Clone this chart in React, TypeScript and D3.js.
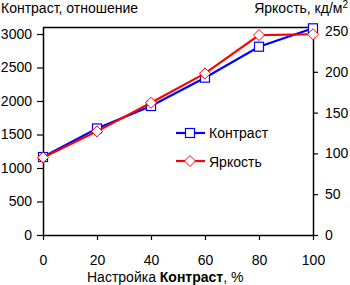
import React, { useEffect, useRef } from "react";
import * as d3 from "d3";

// Contrast setting, %
const settings = [0, 20, 40, 60, 80, 100];
// contrast ratio (left axis)
const contrastRatio = [1164, 1590, 1925, 2348, 2810, 3085];
// brightness, cd/m2 (right axis)
const brightness = [95, 127, 162, 198, 245, 246];

const leftTicks = [0, 500, 1000, 1500, 2000, 2500, 3000];
const rightTicks = [0, 50, 100, 150, 200, 250];
const xTicks = [0, 20, 40, 60, 80, 100];

const FONT = "'Liberation Sans', Arial, sans-serif";

export default function App() {
  const ref = useRef<SVGSVGElement>(null);

  useEffect(() => {
    const width = 350;
    const height = 285;
    const left = 43, right = 313, top = 27, bottom = 235;

    const svg = d3.select(ref.current);
    svg.selectAll("*").remove();

    const x = d3.scaleLinear().domain([0, 100]).range([left, right]);
    const yL = d3.scaleLinear().domain([0, 3000 * (bottom - top) / 201]).range([bottom, top]);
    const yR = d3.scaleLinear().domain([0, 250 * (bottom - top) / 204]).range([bottom, top]);

    svg.append("rect").attr("width", width).attr("height", height).attr("fill", "#fff");

    // frame top line
    svg.append("line")
      .attr("x1", left).attr("x2", right).attr("y1", top + 0.5).attr("y2", top + 0.5)
      .attr("stroke", "#000").attr("stroke-width", 1.5);

    const styleAxis = (g: any) => {
      g.select(".domain").attr("stroke", "#000").attr("stroke-width", 1.5);
      g.selectAll(".tick line").attr("stroke", "#000").attr("stroke-width", 1.2);
      g.selectAll("text").attr("fill", "#000").style("font-family", FONT).style("font-size", "14px");
    };

    const fmt = d3.format("d");

    svg.append("g")
      .attr("transform", `translate(${left},0)`)
      .call(d3.axisLeft(yL).tickValues(leftTicks).tickFormat(fmt).tickSize(6).tickSizeOuter(0).tickPadding(5))
      .call(styleAxis);

    svg.append("g")
      .attr("transform", `translate(${right},0)`)
      .call(d3.axisRight(yR).tickValues(rightTicks).tickFormat(fmt).tickSize(5).tickSizeOuter(0).tickPadding(7))
      .call(styleAxis);

    svg.append("g")
      .attr("transform", `translate(0,${bottom})`)
      .call(d3.axisBottom(x).tickValues(xTicks).tickFormat(fmt).tickSize(5).tickSizeOuter(0).tickPadding(15))
      .call(styleAxis);

    const contrastLine = d3.line<number>().x((_, i) => x(settings[i])).y((d) => yL(d));
    const brightLine = d3.line<number>().x((_, i) => x(settings[i])).y((d) => yR(d));

    const diamond = (cx: number, cy: number, r: number) =>
      `M${cx},${cy - r}L${cx + r},${cy}L${cx},${cy + r}L${cx - r},${cy}Z`;

    // contrast series
    svg.append("path").datum(contrastRatio)
      .attr("d", contrastLine).attr("fill", "none").attr("stroke", "#0000ff").attr("stroke-width", 2.2);
    svg.append("g").selectAll("rect").data(contrastRatio).join("rect")
      .attr("x", (_, i) => x(settings[i]) - 4.5).attr("y", (d) => yL(d) - 4.5)
      .attr("width", 9).attr("height", 9)
      .attr("fill", "#fff").attr("stroke", "#0000ff").attr("stroke-width", 1.2);

    // brightness series
    svg.append("path").datum(brightness)
      .attr("d", brightLine).attr("fill", "none").attr("stroke", "#ff0000").attr("stroke-width", 2.2);
    svg.append("g").selectAll("path").data(brightness).join("path")
      .attr("d", (d, i) => diamond(x(settings[i]), yR(d), 5.5))
      .attr("fill", "#fff").attr("stroke", "#ff0000").attr("stroke-width", 1);

    // legend
    const legend = svg.append("g");
    legend.append("line").attr("x1", 176).attr("x2", 205).attr("y1", 133).attr("y2", 133)
      .attr("stroke", "#0000ff").attr("stroke-width", 2.2);
    legend.append("rect").attr("x", 185.5).attr("y", 128.5).attr("width", 9).attr("height", 9)
      .attr("fill", "#fff").attr("stroke", "#0000ff").attr("stroke-width", 1.2);
    legend.append("text").attr("x", 209).attr("y", 138).text("Контраст");
    legend.append("line").attr("x1", 176).attr("x2", 205).attr("y1", 161).attr("y2", 161)
      .attr("stroke", "#ff0000").attr("stroke-width", 2.2);
    legend.append("path").attr("d", diamond(190, 161, 5.5))
      .attr("fill", "#fff").attr("stroke", "#ff0000").attr("stroke-width", 1);
    legend.append("text").attr("x", 209).attr("y", 167).text("Яркость");
    legend.selectAll("text").style("font-family", FONT).style("font-size", "14px").attr("fill", "#000");

    // axis titles
    const titles = svg.append("g").style("font-family", FONT).style("font-size", "14px").attr("fill", "#000");
    titles.append("text").attr("x", 1).attr("y", 13).text("Контраст, отношение");
    const rt = titles.append("text").attr("x", 348).attr("y", 13).attr("text-anchor", "end");
    rt.append("tspan").text("Яркость, кд/м");
    rt.append("tspan").attr("dy", -5).style("font-size", "10px").text("2");
    const xt = titles.append("text").attr("x", 87).attr("y", 282);
    xt.append("tspan").text("Настройка ");
    xt.append("tspan").style("font-weight", "bold").text("Контраст");
    xt.append("tspan").text(", %");
  }, []);

  return (
    <svg ref={ref} width={350} height={285} style={{ position: "absolute", left: 0, top: 0 }} />
  );
}
